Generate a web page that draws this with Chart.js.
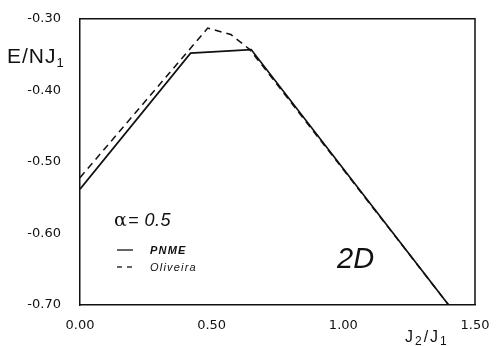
<!DOCTYPE html>
<html>
<head>
<meta charset="utf-8">
<script src="https://cdn.jsdelivr.net/npm/chart.js@4.4.0/dist/chart.umd.min.js"></script>
<style>
    body { margin: 0; background: #fff; }
    #wrap { width: 496px; height: 346px; }
</style>
</head>
<body>
<div id="wrap"><canvas id="energyChart"></canvas></div>
<script>
// Ground state energy vs J2/J1, alpha = 0.5
const pnmeX = [0, 0.42, 0.65, 1.40];
const pnmeY = [-0.538, -0.348, -0.343, -0.70];
const oliveiraX = [0, 0.485, 0.573, 0.645, 1.40];
const oliveiraY = [-0.522, -0.313, -0.322, -0.343, -0.70];
const xTicks = [0, 0.5, 1.0, 1.5];
const yTicks = [-0.7, -0.6, -0.5, -0.4, -0.3];

const ink = '#111';

function toPoints(xs, ys) {
    return xs.map((x, i) => ({ x: x, y: ys[i] }));
}

// draws a run of text pieces: [text, fontSize, baselineShift]
function drawPieces(ctx, pieces, x, y, style, spacing) {
    ctx.letterSpacing = (spacing || 0) + 'px';
    pieces.forEach(p => {
        ctx.font = `${style || ''} ${p[1]}px "Liberation Sans", Arial, sans-serif`;
        ctx.fillText(p[0], x, y + p[2]);
        x += ctx.measureText(p[0]).width;
    });
    ctx.letterSpacing = '0px';
}

const annotations = {
    id: 'annotations',
    afterDraw(chart) {
        const ctx = chart.ctx;
        const a = chart.chartArea;
        ctx.save();
        ctx.fillStyle = ink;
        ctx.strokeStyle = ink;

        // top and right sides of the frame
        ctx.lineWidth = 1.5;
        ctx.beginPath();
        ctx.moveTo(a.left, a.top);
        ctx.lineTo(a.right, a.top);
        ctx.lineTo(a.right, a.bottom);
        ctx.stroke();

        ctx.textBaseline = 'alphabetic';
        ctx.textAlign = 'left';

        // axis titles
        drawPieces(ctx, [['E/NJ', 21, 0], ['1', 13, 4]], 7, 63, '', 1);
        drawPieces(ctx, [['J', 16, 0], ['2', 12, 3], ['/J', 16, 0], ['1', 12, 3]], 405, 342, '', 2);

        // alpha value
        ctx.font = '19px "DejaVu Serif", serif';
        ctx.fillText('\u03b1', 114, 226);
        drawPieces(ctx, [['= 0.5', 18, 0]], 128, 226, 'italic', 0.5);

        // legend
        ctx.lineWidth = 1.3;
        ctx.beginPath();
        ctx.moveTo(117, 250);
        ctx.lineTo(133, 250);
        ctx.stroke();
        ctx.setLineDash([5, 5]);
        ctx.beginPath();
        ctx.moveTo(117, 267);
        ctx.lineTo(133, 267);
        ctx.stroke();
        ctx.setLineDash([]);
        drawPieces(ctx, [['PNME', 11, 0]], 150, 254, 'italic bold', 1.2);
        drawPieces(ctx, [['Oliveira', 11, 0]], 150, 271, 'italic', 1.2);

        // panel label
        drawPieces(ctx, [['2D', 29, 0]], 337, 268, 'italic', 0);
        ctx.restore();
    }
};

const ctx = document.getElementById('energyChart').getContext('2d');
const energyChart = new Chart(ctx, {
    type: 'line',
    data: {
        datasets: [{
            label: 'PNME',
            data: toPoints(pnmeX, pnmeY),
            borderColor: ink,
            borderWidth: 1.7,
            pointRadius: 0,
            tension: 0
        }, {
            label: 'Oliveira',
            data: toPoints(oliveiraX, oliveiraY),
            borderColor: ink,
            borderWidth: 1.5,
            borderDash: [7, 5],
            pointRadius: 0,
            tension: 0
        }]
    },
    options: {
        responsive: true,
        maintainAspectRatio: false,
        animation: false,
        layout: { padding: { top: 18, right: 21, left: 0, bottom: 0 } },
        plugins: {
            legend: { display: false },
            tooltip: { enabled: false }
        },
        scales: {
            x: {
                type: 'linear',
                min: 0,
                max: 1.5,
                afterBuildTicks: s => { s.ticks = xTicks.map(v => ({ value: v })); },
                afterFit: s => { s.height = 41; },
                grid: { display: false },
                border: { display: true, color: ink, width: 1.5 },
                ticks: {
                    color: ink,
                    padding: 5,
                    maxRotation: 0,
                    font: { family: '"DejaVu Sans", sans-serif', size: 13 },
                    callback: v => v.toFixed(2)
                }
            },
            y: {
                min: -0.7,
                max: -0.3,
                afterBuildTicks: s => { s.ticks = yTicks.map(v => ({ value: v })); },
                afterFit: s => { s.width = 80; },
                grid: { display: false },
                border: { display: true, color: ink, width: 1.5 },
                ticks: {
                    color: ink,
                    padding: 11,
                    font: { family: '"DejaVu Sans", sans-serif', size: 13 },
                    callback: v => v.toFixed(2)
                }
            }
        }
    },
    plugins: [annotations]
});
</script>
</body>
</html>
